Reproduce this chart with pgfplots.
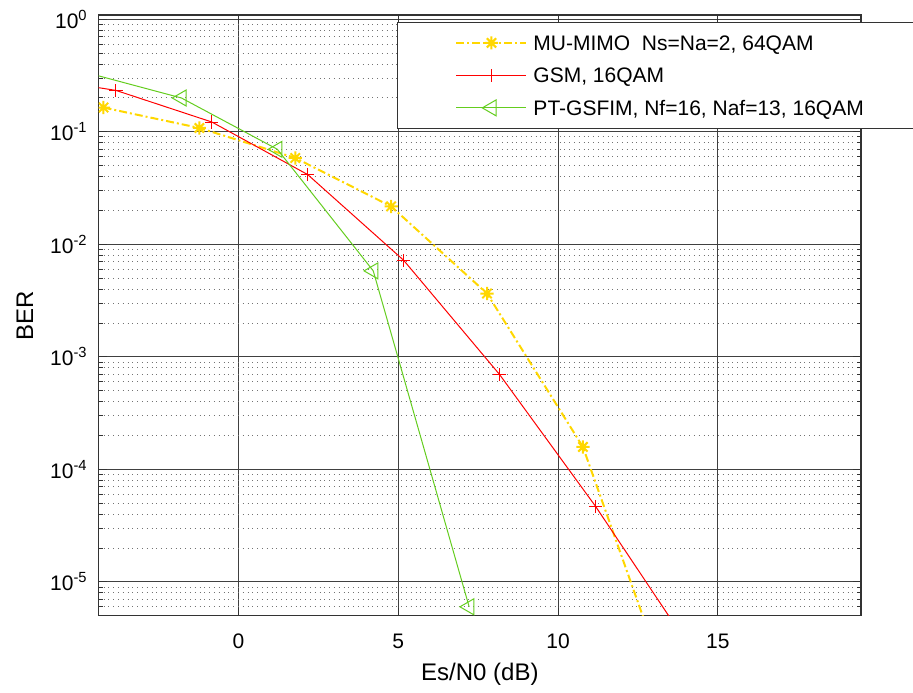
\documentclass[border=0pt]{standalone}
\usepackage{pgfplots}
\pgfplotsset{compat=1.18}
\usepackage{fontspec}
\setmainfont{Liberation Sans}
\definecolor{myyellow}{RGB}{255,215,0}
\definecolor{mygreen}{RGB}{100,205,30}
\definecolor{myred}{RGB}{255,0,0}
\definecolor{legred}{RGB}{254,1,1}
\pgfdeclareplotmark{mstar}{%
 \pgfpathmoveto{\pgfqpoint{-\pgfplotmarksize}{0pt}}\pgfpathlineto{\pgfqpoint{\pgfplotmarksize}{0pt}}%
 \pgfpathmoveto{\pgfqpoint{0pt}{-\pgfplotmarksize}}\pgfpathlineto{\pgfqpoint{0pt}{\pgfplotmarksize}}%
 \pgfpathmoveto{\pgfqpoint{-0.707\pgfplotmarksize}{-0.707\pgfplotmarksize}}\pgfpathlineto{\pgfqpoint{0.707\pgfplotmarksize}{0.707\pgfplotmarksize}}%
 \pgfpathmoveto{\pgfqpoint{-0.707\pgfplotmarksize}{0.707\pgfplotmarksize}}\pgfpathlineto{\pgfqpoint{0.707\pgfplotmarksize}{-0.707\pgfplotmarksize}}%
 \pgfusepathqstroke}
\pgfdeclareplotmark{mplus}{%
 \pgfpathmoveto{\pgfqpoint{-\pgfplotmarksize}{0pt}}\pgfpathlineto{\pgfqpoint{\pgfplotmarksize}{0pt}}%
 \pgfpathmoveto{\pgfqpoint{0pt}{-\pgfplotmarksize}}\pgfpathlineto{\pgfqpoint{0pt}{\pgfplotmarksize}}%
 \pgfusepathqstroke}
\tikzset{
  styY/.style={color=myyellow, line width=1pt, dash pattern=on 4pt off 1.5pt on 1pt off 1.5pt,
     mark=mstar, mark size=3.3pt, mark options={solid}},
  styR/.style={color=myred, line width=0.5pt, mark=mplus, mark size=3.3pt, mark options={solid}},
  styRL/.style={draw=legred, color=legred, line width=0.5pt, mark=mplus, mark size=3.3pt, mark options={solid, draw=legred}},
  styG/.style={color=mygreen, line width=0.5pt, mark=triangle, mark size=4.6pt, mark options={solid, rotate=90}},
}
\begin{document}
\begin{tikzpicture}
\begin{semilogyaxis}[
  scale only axis,
  width=381.15pt, height=300.35pt,
  xmin=-4.37, xmax=19.48,
  ymin=5e-6, ymax=1.09,
  log basis y=10,
  xtick={0,5,10,15},
  minor x tick num=0,
  xmajorgrids=true, ymajorgrids=true, yminorgrids=true,
  major grid style={black!75, line width=0.4pt},
  minor grid style={black!55, dotted, line width=0.4pt},
  axis line style={black!80, line width=0.6pt},
  tick align=inside,
  major tick length=4pt, minor tick length=2pt,
  tick style={black!80, line width=0.4pt},
  tick label style={font=\fontsize{10.5}{12}\selectfont},
  /pgf/number format/assume math mode=true,
  xticklabel style={anchor=center, yshift=-12.9pt},
  yticklabel style={xshift=-2pt},
  yticklabel={10\textsuperscript{\pgfmathparse{int(round(\tick))}\pgfmathresult}},
  xlabel={Es/N0 (dB)},
  ylabel={BER},
  label style={font=\fontsize{12}{14}\selectfont},
  xlabel style={at={(axis description cs:0.5,-0.097)}, anchor=center},
  ylabel style={at={(axis description cs:-0.097,0.5)}, anchor=center},
  clip marker paths=true,
  legend cell align=left,
  legend style={at={(rel axis cs:0.3913,0.9888)}, anchor=north west,
    draw=black!80, line width=0.5pt, fill=white,
    inner xsep=29pt, inner ysep=2.2pt, row sep=0pt,
    font=\fontsize{10.5}{12}\selectfont,
    nodes={inner xsep=3pt, inner ysep=0pt, text height=11.9pt, text depth=4.35pt}},
  legend image code/.code={%
    \draw[mark repeat=2,mark phase=2,#1] plot coordinates {(0pt,0pt) (17.5pt,0pt) (35pt,0pt)};},
]
\addlegendimage{styY}
\addlegendentry{MU-MIMO\ \ Ns=Na=2, 64QAM}
\addlegendimage{styRL}
\addlegendentry{GSM, 16QAM}
\addlegendimage{styG}
\addlegendentry{PT-GSFIM, Nf=16, Naf=13, 16QAM}
\addplot[styY, forget plot] coordinates {
  (-4.22,0.164) (-1.22,0.108) (1.78,0.0585) (4.78,0.0217) (7.78,0.00365) (10.78,1.58e-4) (13.78,6.2e-7)};
\addplot[styR, forget plot] coordinates {
  (-6.83,0.317) (-3.83,0.233) (-0.83,0.122) (2.17,0.0416) (5.17,0.00721) (8.17,6.97e-4) (11.17,4.71e-5) (14.17,2.5e-6)};
\addplot[styG, forget plot] coordinates {
  (-4.78,0.337) (-1.78,0.1995) (1.22,0.0698) (4.22,0.0058) (7.22,6.0e-6)};
\end{semilogyaxis}
\pgfresetboundingbox
\path[use as bounding box] ([shift={(-49.35pt,-38.15pt)}]current axis.south west) rectangle ([shift={(26pt,7.5pt)}]current axis.north east);
\end{tikzpicture}
\end{document}
